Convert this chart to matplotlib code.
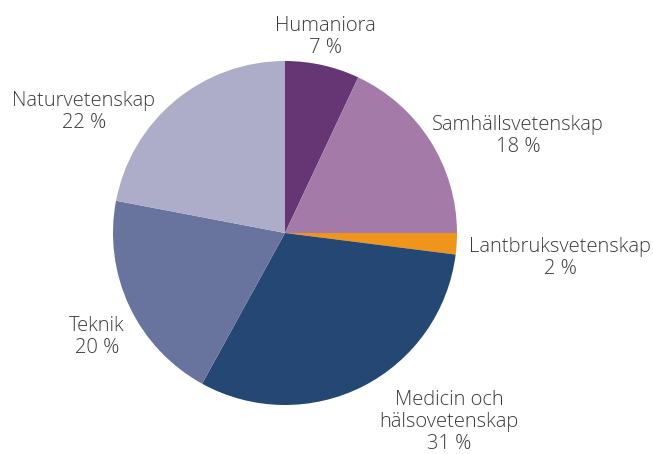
import matplotlib
matplotlib.use('Agg')
import matplotlib.pyplot as plt

# data
categories = ["Humaniora", "Samhällsvetenskap", "Lantbruksvetenskap",
              "Medicin och\nhälsovetenskap", "Teknik", "Naturvetenskap"]
shares = [7, 18, 2, 31, 20, 22]
colors = ["#653574", "#a47ba8", "#f0951c", "#244873", "#68739e", "#adadc9"]

# label centres, in pie radius units
label_pos = [(0.233, 1.140), (1.355, 0.564), (1.600, -0.145),
             (0.953, -1.100), (-1.093, -0.605), (-1.169, 0.703)]

fig = plt.figure(figsize=(6.53, 4.54), dpi=100)
ax = fig.add_axes([113/653, 49/454, 344/653, 344/454])

ax.pie(shares, colors=colors, startangle=90, counterclock=False, radius=1)
ax.set_xlim(-1, 1)
ax.set_ylim(-1, 1)
ax.set_aspect('equal')

for cat, val, (x, y) in zip(categories, shares, label_pos):
    ax.text(x, y, f"{cat}\n{val} %", ha='center', va='center',
            fontsize=14.5, family='Open Sans', fontweight='light',
            color='#3a3a3a', linespacing=1.12, clip_on=False)

fig.savefig("out.png", dpi=100)
